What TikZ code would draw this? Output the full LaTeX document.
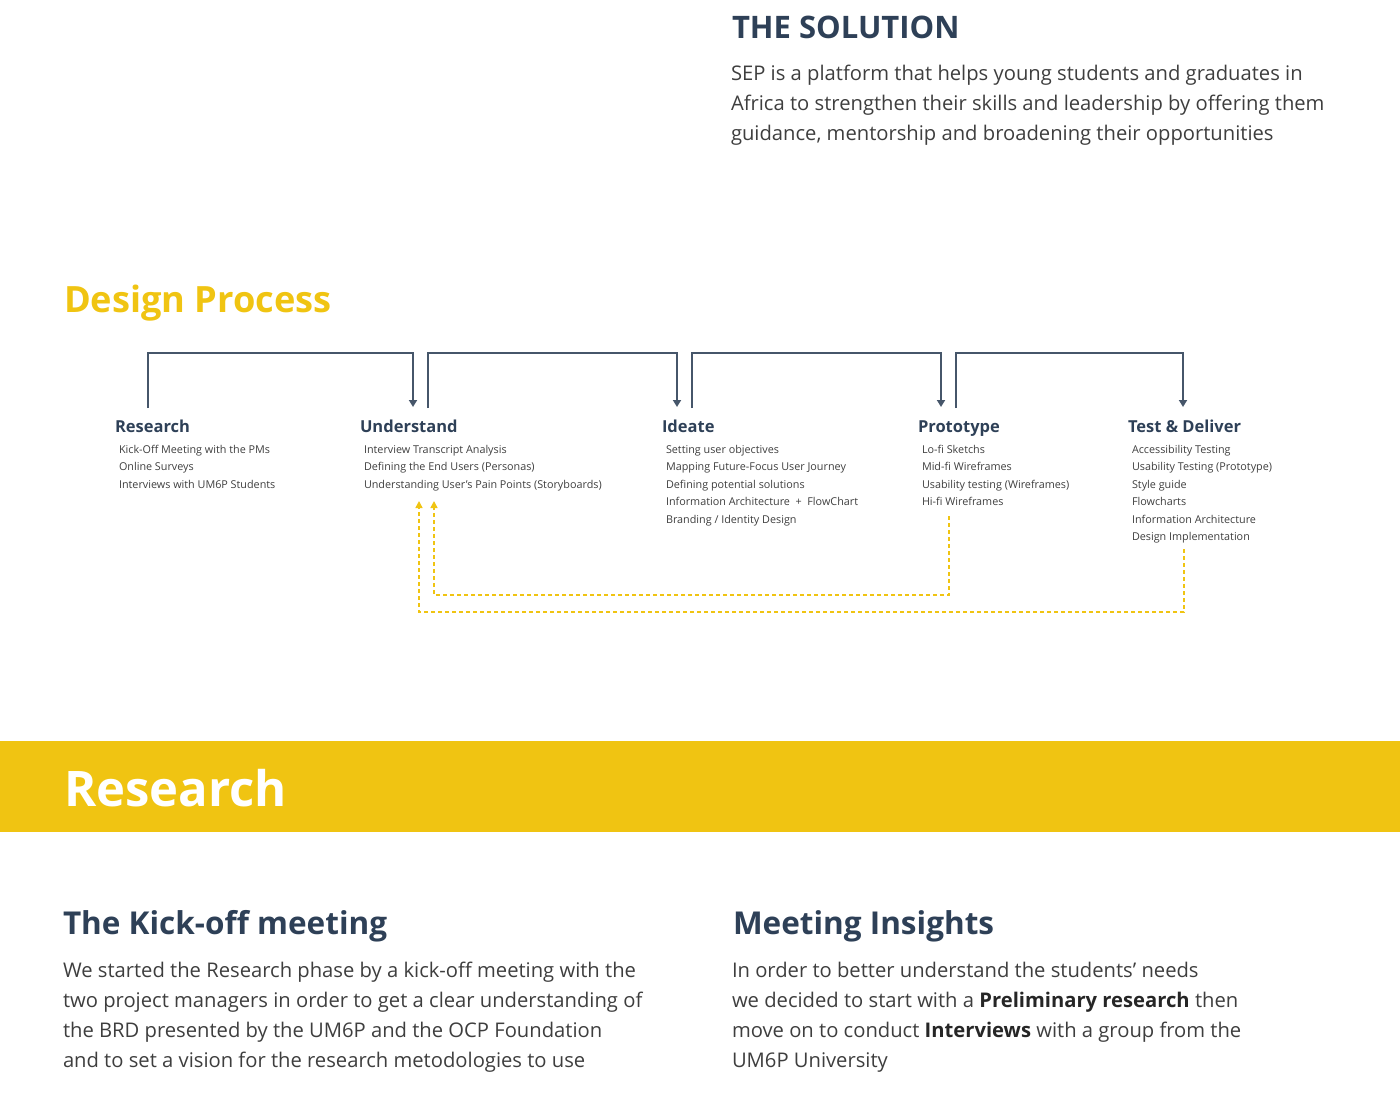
\documentclass[tikz,border=0pt]{standalone}
\usepackage{fontspec}
\setmainfont{Open Sans}
\usetikzlibrary{arrows.meta}
\definecolor{slate}{RGB}{46,64,87}
\definecolor{linkcol}{RGB}{70,86,106}
\definecolor{sun}{RGB}{240,196,18}
\definecolor{bodytxt}{RGB}{62,62,62}
\newcommand{\fs}[2]{\fontsize{#1pt}{#2pt}\selectfont}
\begin{document}
\begin{tikzpicture}[x=1pt,y=-1pt,
  every node/.style={inner sep=0pt,outer sep=0pt},
  bighead/.style={anchor=base west,font=\fs{31.5}{36}\bfseries,text=slate},
  para/.style={anchor=north west,align=left,font=\fs{20.2}{30},text=bodytxt},
  phase/.style={anchor=base west,font=\fs{16.5}{20}\bfseries,text=slate},
  items/.style={anchor=north west,align=left,font=\fs{10.8}{17.5},text=bodytxt},
  flow/.style={draw=linkcol,line width=2pt,-{Triangle[width=8pt,length=7pt]}},
  loopback/.style={draw=sun,line width=1.5pt,dash pattern=on 4pt off 3pt,-{Triangle[width=7pt,length=7pt]}}]
\useasboundingbox (0,0) rectangle (1400,1095);

% --- solution statement
\node[bighead,font=\fs{31}{36}\bfseries] (soltitle) at (732,38) {THE SOLUTION};
\node[para] (soltext) at (731,59) {\strut SEP is a platform that helps young students and graduates in\\
\strut Africa to strengthen their skills and leadership by offering them\\
\strut guidance, mentorship and broadening their opportunities};

% --- design process
\node[anchor=base west,font=\fs{36.2}{40}\bfseries,text=sun] (dptitle) at (64,312) {Design Process};

\node[phase] (research) at (115,432) {Research};
\node[phase] (understand) at (360,432) {Understand};
\node[phase] (ideate) at (662,432) {Ideate};
\node[phase] (prototype) at (918,432) {Prototype};
\node[phase] (testdeliver) at (1128,432) {Test \& Deliver};

\node[items] (researchlist) at (119,441) {\strut Kick-Off Meeting with the PMs\\
\strut Online Surveys\\
\strut Interviews with UM6P Students};
\node[items] (understandlist) at (364,441) {\strut Interview Transcript Analysis\\
\strut Defining the End Users (Personas)\\
\strut Understanding User’s Pain Points (Storyboards)};
\node[items] (ideatelist) at (666,441) {\strut Setting user objectives\\
\strut Mapping Future-Focus User Journey\\
\strut Defining potential solutions\\
\strut Information Architecture~~+~~FlowChart\\
\strut Branding / Identity Design};
\node[items] (prototypelist) at (922,441) {\strut Lo-fi Sketchs\\
\strut Mid-fi Wireframes\\
\strut Usability testing (Wireframes)\\
\strut Hi-fi Wireframes};
\node[items] (testlist) at (1132,441) {\strut Accessibility Testing\\
\strut Usability Testing (Prototype)\\
\strut Style guide\\
\strut Flowcharts\\
\strut Information Architecture\\
\strut Design Implementation};

% connector ends above the phase titles
\coordinate (researchout) at (148,408);
\coordinate (understandin) at (413,407);
\coordinate (understandout) at (428,408);
\coordinate (ideatein) at (677,407);
\coordinate (ideateout) at (692,408);
\coordinate (prototypein) at (941,407);
\coordinate (prototypeout) at (956,408);
\coordinate (testin) at (1183,407);

\draw[flow] (researchout) -- ++(0,-55) -| (understandin);
\draw[flow] (understandout) -- ++(0,-55) -| (ideatein);
\draw[flow] (ideateout) -- ++(0,-55) -| (prototypein);
\draw[flow] (prototypeout) -- ++(0,-55) -| (testin);

% iteration loops back to Understand
\coordinate (protoback) at (949,516);
\coordinate (testback) at (1184,549);
\coordinate (understandfb1) at (434,501);
\coordinate (understandfb2) at (419,501);
\draw[loopback] (protoback) -- ++(0,79) -| (understandfb1);
\draw[loopback] (testback) -- ++(0,63) -| (understandfb2);

% --- research banner
\fill[sun] (0,741) rectangle (1400,832);
\node[anchor=base west,font=\fs{49}{56}\bfseries,text=white] (bannertitle) at (64,806) {Research};

% --- kick-off meeting
\node[bighead] (kotitle) at (63,934) {The Kick-off meeting};
\node[para] (kotext) at (63,956) {\strut We started the Research phase by a kick-off meeting with the\\
\strut two project managers in order to get a clear understanding of\\
\strut the BRD presented by the UM6P and the OCP Foundation\\
\strut and to set a vision for the research metodologies to use};

% --- meeting insights
\node[bighead] (mititle) at (733,934) {Meeting Insights};
\node[para] (mitext) at (732,956) {\strut In order to better understand the students’ needs\\
\strut we decided to start with a \textbf{\color{black!85}Preliminary research} then\\
\strut move on to conduct \textbf{\color{black!85}Interviews} with a group from the\\
\strut UM6P University};
\end{tikzpicture}
\end{document}
